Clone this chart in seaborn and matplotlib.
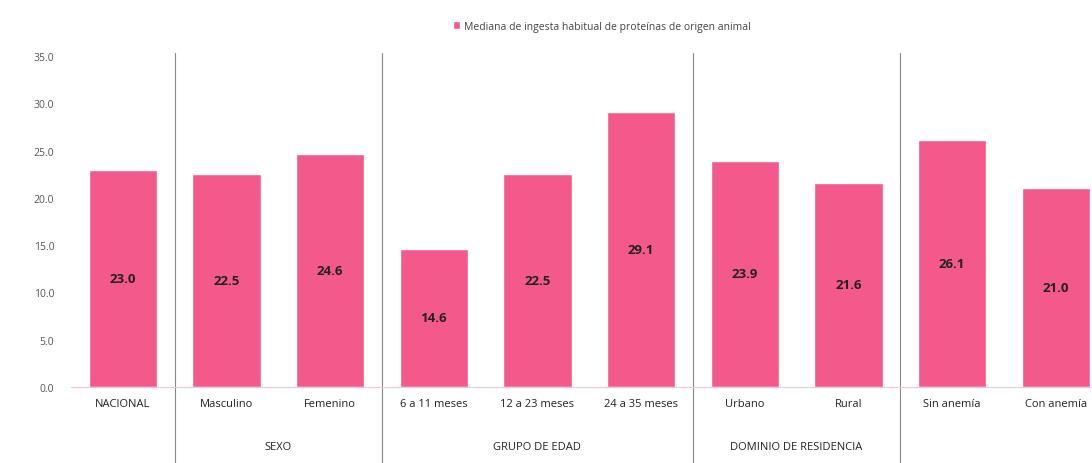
import matplotlib
matplotlib.use("Agg")
import matplotlib.pyplot as plt
import matplotlib.transforms as mtransforms
import seaborn as sns
import pandas as pd

categories = ["NACIONAL", "Masculino", "Femenino", "6 a 11 meses", "12 a 23 meses",
              "24 a 35 meses", "Urbano", "Rural", "Sin anemía", "Con anemía"]
values = [23.0, 22.5, 24.6, 14.6, 22.5, 29.1, 23.9, 21.6, 26.1, 21.0]
groups = ["SEXO", "GRUPO DE EDAD", "DOMINIO DE RESIDENCIA"]
group_centers = [1.5, 4.0, 6.5]
separators = [0.5, 2.5, 5.5, 7.5]
legend_label = "Mediana de ingesta habitual de proteínas de origen animal"

df = pd.DataFrame({"cat": categories, "val": values})

sns.set_style("white")
plt.rcParams["font.family"] = ["Open Sans", "DejaVu Sans"]

pink = "#F35A8B"
fig = plt.figure(figsize=(10.92, 4.64), dpi=100)
ax = fig.add_axes([0.065, 0.164, 0.935, 0.713])

sns.barplot(data=df, x="cat", y="val", color=pink, width=0.66, ax=ax,
            saturation=1, label=legend_label)

ax.bar_label(ax.containers[0], fmt="%.1f", label_type="center",
             fontsize=9.5, fontweight="bold", color="#222222")

ax.set_ylim(0, 35)
ax.set_yticks(range(0, 36, 5))
ax.set_yticklabels([f"{v:.1f}" for v in range(0, 36, 5)], fontsize=7.5, color="#555555")
ax.set_xlim(-0.5, 9.35)
ax.tick_params(axis="x", labelsize=8, colors="#222222", length=0, pad=8)
ax.tick_params(axis="y", length=0, pad=12)
ax.set_xlabel("")
ax.set_ylabel("")
for s in ["top", "right", "left"]:
    ax.spines[s].set_visible(False)
ax.spines["bottom"].set_color("#f4c6d4")
ax.spines["bottom"].set_linewidth(0.8)

trans = mtransforms.blended_transform_factory(ax.transData, ax.transAxes)
for x in separators:
    ax.plot([x, x], [-0.23, 1.01], transform=trans, color="#888888",
            lw=0.8, clip_on=False)
for g, c in zip(groups, group_centers):
    ax.text(c, -0.18, g, transform=trans, ha="center", va="center",
            fontsize=8, color="#222222")

ax.legend(loc="upper center", bbox_to_anchor=(0.52, 1.135), frameon=False,
          fontsize=7.5, handlelength=0.7, handleheight=0.7, handletextpad=0.4,
          labelcolor="#444444")

fig.savefig("out.png", dpi=100)
